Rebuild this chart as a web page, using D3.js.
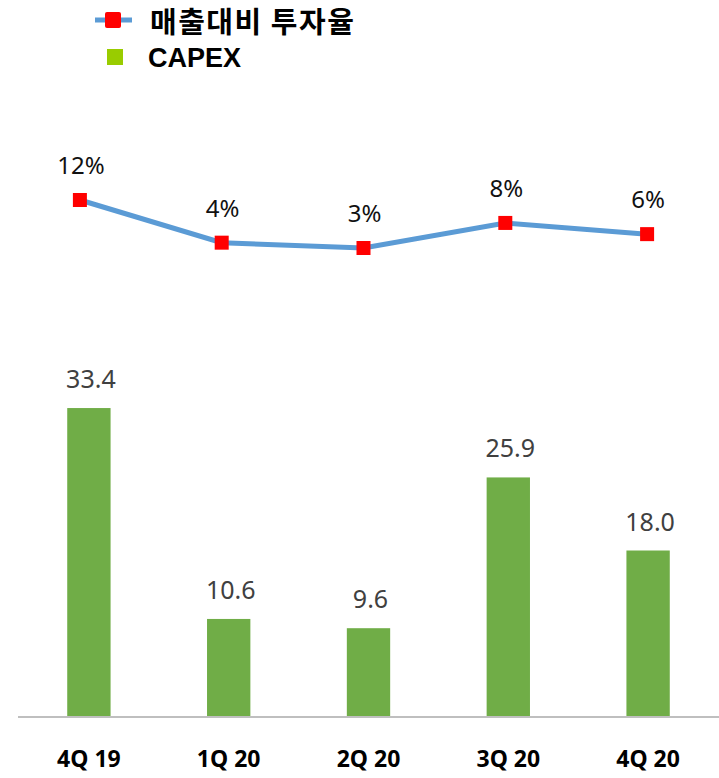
<!DOCTYPE html>
<html>
<head>
<meta charset="utf-8">
<script src="https://cdn.jsdelivr.net/npm/d3@7"></script>
<style>
  html, body { margin: 0; padding: 0; background: #fff; }
  svg { display: block; }
</style>
</head>
<body>
<svg id="chart" width="719" height="778"></svg>
<script>
const categories = ["4Q 19", "1Q 20", "2Q 20", "3Q 20", "4Q 20"];
const capex = [33.4, 10.6, 9.6, 25.9, 18.0];
const ratio = [12.0, 4.0, 3.0, 7.7, 5.6];
const legendLabels = ["매출대비 투자율", "CAPEX"];

const svg = d3.select("#chart");

const x = d3.scaleBand().domain(categories).range([19, 718]).paddingInner(0.69).paddingOuter(0.345);
const xLine = d3.scalePoint().domain(categories).range([9, 718]).padding(0.5);
const yBar = d3.scaleLinear().domain([0, 40]).range([717, 347]);
const yLine = d3.scaleLinear().domain([0, 15]).range([264, 184]);

const cx = d => x(d) + x.bandwidth() / 2;

// bars
svg.append("g").selectAll("rect").data(capex).join("rect")
  .attr("x", (d, i) => x(categories[i]))
  .attr("y", d => yBar(d))
  .attr("width", x.bandwidth())
  .attr("height", d => yBar(0) - yBar(d))
  .attr("fill", "#70AD47");

// bar labels
svg.append("g").selectAll("text").data(capex).join("text")
  .attr("x", (d, i) => cx(categories[i]) + 2)
  .attr("y", d => yBar(d) - 20)
  .attr("text-anchor", "middle")
  .attr("font-family", "'Noto Sans', sans-serif")
  .attr("font-size", 25)
  .attr("fill", "#404040")
  .text(d => d3.format(".1f")(d));

// x axis
const xAxis = d3.axisBottom(x).tickSize(0).tickPadding(0);
const ax = svg.append("g").attr("transform", "translate(0,717)").call(xAxis);
ax.select(".domain").remove();
svg.append("line").attr("x1", 18).attr("x2", 719).attr("y1", 717).attr("y2", 717)
  .attr("stroke", "#BFBFBF").attr("stroke-width", 2);
ax.selectAll(".tick text")
  .attr("y", 50)
  .attr("dy", 0)
  .attr("font-family", "'Noto Sans', sans-serif")
  .attr("font-weight", "bold")
  .attr("font-size", 23)
  .attr("fill", "#000");

// line
const line = d3.line().x((d, i) => xLine(categories[i])).y(d => yLine(d));
svg.append("path").datum(ratio)
  .attr("d", line)
  .attr("fill", "none")
  .attr("stroke", "#5B9BD5")
  .attr("stroke-width", 5);

const ms = 14;
svg.append("g").selectAll("rect").data(ratio).join("rect")
  .attr("x", (d, i) => xLine(categories[i]) - ms / 2)
  .attr("y", d => yLine(d) - ms / 2)
  .attr("width", ms).attr("height", ms)
  .attr("fill", "#FF0000");

svg.append("g").selectAll("text").data(ratio).join("text")
  .attr("x", (d, i) => xLine(categories[i]) + 1)
  .attr("y", d => yLine(d) - 26)
  .attr("text-anchor", "middle")
  .attr("font-family", "'Noto Sans', sans-serif")
  .attr("font-size", 24)
  .attr("fill", "#111")
  .text(d => Math.round(d) + "%");

// legend
const lg = svg.append("g");
lg.append("line").attr("x1", 95).attr("x2", 132).attr("y1", 20).attr("y2", 20)
  .attr("stroke", "#5B9BD5").attr("stroke-width", 5);
lg.append("rect").attr("x", 105).attr("y", 12).attr("width", 16).attr("height", 16)
  .attr("rx", 2).attr("fill", "#FF0000");
lg.append("rect").attr("x", 107).attr("y", 49).attr("width", 16).attr("height", 16)
  .attr("fill", "#99CC00");
lg.append("text").attr("x", 150).attr("y", 33)
  .attr("font-family", "'Noto Sans CJK KR', sans-serif")
  .attr("font-weight", "bold").attr("font-size", 29).attr("letter-spacing", 1.5).attr("fill", "#000")
  .text(legendLabels[0]);
lg.append("text").attr("x", 148).attr("y", 67)
  .attr("font-family", "'Liberation Sans', Arial, sans-serif")
  .attr("font-weight", "bold").attr("font-size", 27).attr("fill", "#000")
  .text(legendLabels[1]);
</script>
</body>
</html>
